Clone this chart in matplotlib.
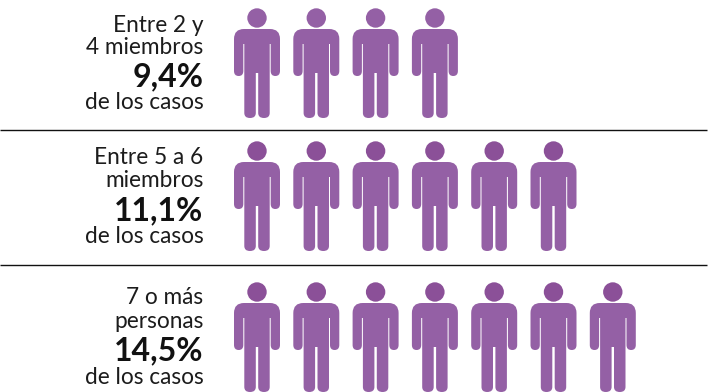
import matplotlib.pyplot as plt
from matplotlib.patches import Circle, PathPatch
from matplotlib.path import Path

line_one = ["Entre 2 y", "Entre 5 a 6", "7 o más"]
line_two = ["4 miembros", "miembros", "personas"]
percents = ["9,4%", "11,1%", "14,5%"]
caption = "de los casos"
icon_counts = [4, 6, 7]

body_color = "#9460a5"
head_colors = ["#9460a5", "#8b5098", "#8b5098"]
ink = "#1c1c1c"
head_y = [18, 151, 292]
first_x = 257
step_x = 59.3
separators = [130, 265]

# text baselines per row: two label lines, percent, caption
baselines = [
    [32, 54, 86, 109],
    [164, 187, 220, 243],
    [304, 328, 360, 384],
]


def body_path(cx, cy):
    # outline of the person below the head, cx/cy is the head centre
    M, L, C = Path.MOVETO, Path.LINETO, Path.CURVE3
    right = [
        (M, (0, 11)), (L, (13, 11)),
        (C, (23, 11)), (C, (23, 21)),     # shoulder
        (L, (23, 53)),
        (C, (23, 58)), (C, (18.3, 58)),   # hand
        (C, (13.7, 58)), (C, (13.7, 53)),
        (L, (13.7, 26)), (L, (12.7, 26)),
        (L, (12.7, 95)),
        (C, (12.7, 100)), (C, (7, 100)),  # foot
        (C, (1.2, 100)), (C, (1.2, 95)),
        (L, (1.2, 55)), (L, (0, 55)),
    ]
    left = [(c, (-x, y)) for c, (x, y) in right[::-1]]
    # walk back up the mirrored side, curve control points stay in order
    verts = [p for _, p in right] + [p for _, p in left[1:]]
    codes = [c for c, _ in right]
    rev_codes = [c for c, _ in right[::-1]]
    # a reversed segment keeps the code of the following point
    codes += [rev_codes[i - 1] if rev_codes[i - 1] != M else L for i in range(1, len(rev_codes))]
    codes += [Path.CLOSEPOLY]
    verts += [(0, 11)]
    return Path([(cx + x, cy + y) for x, y in verts], codes)


fig = plt.figure(figsize=(7.13, 3.92), dpi=100)
ax = fig.add_axes([0, 0, 1, 1])
ax.set_xlim(0, 713)
ax.set_ylim(392, 0)
ax.axis("off")

for y in separators:
    ax.plot([0, 707], [y, y], color="#111111", lw=1, solid_capstyle="butt")

for row, count in enumerate(icon_counts):
    cy = head_y[row]
    for i in range(count):
        cx = first_x + i * step_x
        ax.add_patch(Circle((cx, cy), 9.7, fc=head_colors[row], ec="none"))
        ax.add_patch(PathPatch(body_path(cx, cy), fc=body_color, ec="none"))

    y1, y2, y3, y4 = baselines[row]
    kw = dict(ha="right", va="baseline", color=ink, family="Lato", fontsize=16.3)
    ax.text(203.5, y1, line_one[row], **kw)
    ax.text(203.5, y2, line_two[row], **kw)
    ax.text(203.5, y3, percents[row], ha="right", va="baseline", color="#111111",
            family="Lato", fontsize=23, fontweight="bold")
    ax.text(203.5, y4, caption, **kw)

fig.savefig("out.png", dpi=100)
